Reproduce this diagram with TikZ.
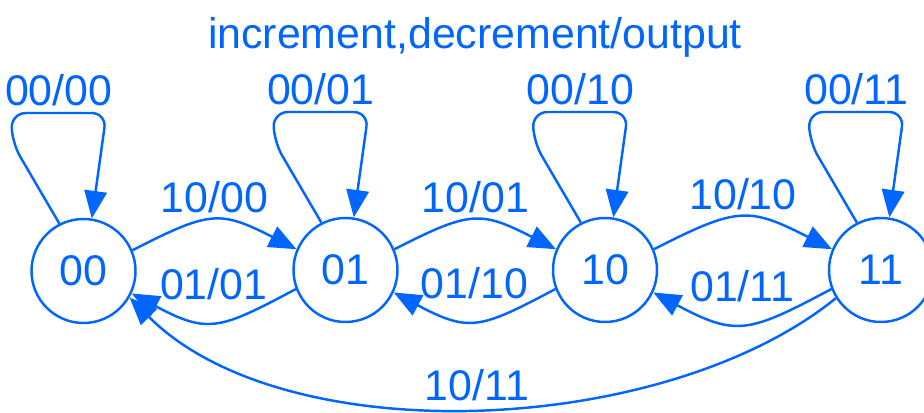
\documentclass[tikz,border=0pt]{standalone}
\usepackage{fontspec}
\setmainfont{Liberation Sans}
\usepackage{xcolor}
\definecolor{stateBlue}{RGB}{0,102,255}
\usepackage{tikz}
\usetikzlibrary{arrows.meta,positioning}

\begin{document}
\begin{tikzpicture}[
    font=\fontsize{24.4}{29}\selectfont,
    every node/.append style={text=stateBlue},
    state/.style={circle,draw=stateBlue,line width=1.4pt,minimum size=2.08cm,inner sep=0pt},
    trans/.style={draw=stateBlue,line width=1.4pt,-{Triangle[length=0.55cm,width=0.45cm]}},
    selfloop/.style={trans,rounded corners=0.3cm},
    lbl/.style={inner sep=3.5pt}
  ]
  \useasboundingbox (0,0) rectangle (18.48,8.26);
  % title
  \node[anchor=base] (title) at (9.5,7.28) {increment,decrement/output};
  % states
  \node[state] (s00) at (1.67,2.84) {00};
  \node[state] (s01) at (6.91,2.86) {01};
  \node[state] (s10) at (12.1,2.86) {10};
  \node[state] (s11) at (17.62,2.86) {11};
  % self loops (input 00)
  \foreach \s/\lab in {s00/{00/00},s01/{00/01},s10/{00/10},s11/{00/11}}
    \draw[selfloop] (\s.117) -- ([shift={(-1.42,2.55)}]\s.center)
      -- ([shift={(-1.45,3.16)}]\s.center)
      -- node[above,lbl] {\lab} ([shift={(0.46,3.16)}]\s.center) -- (\s.81);
  % increment (10)
  \foreach \a/\b/\lab in {s00/s01/{10/00},s01/s10/{10/01},s10/s11/{10/10}}
    \draw[trans] (\a.23) to[out=27,in=153,looseness=1.35] node[above,lbl] {\lab} (\b.157);
  % decrement (01)
  \foreach \a/\b/\lab in {s01/s00/{01/01},s10/s01/{01/10},s11/s10/{01/11}}
    \draw[trans] (\a.201) to[out=208,in=332,looseness=1.35] node[above=0.3cm,lbl] {\lab} (\b.335);
  % wrap around
  \draw[trans] (s11.212) to[out=219,in=315,looseness=0.8] node[above,lbl] {10/11} (s00.330);
\end{tikzpicture}
\end{document}
